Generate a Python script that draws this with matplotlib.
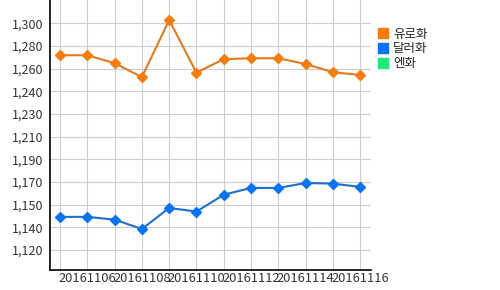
import matplotlib
matplotlib.use("Agg")
from matplotlib import pyplot as plt
from matplotlib.lines import Line2D

plt.rcParams['font.family'] = ['Noto Sans CJK KR', 'DejaVu Sans']

# data
dates = ['20161105', '20161106', '20161107', '20161108', '20161109', '20161110',
         '20161111', '20161112', '20161113', '20161114', '20161115', '20161116']
euro = [1274.6, 1274.6, 1268.3, 1257.2, 1302.6, 1260.8,
        1271.5, 1272.2, 1272.2, 1267.7, 1261.1, 1259.0]
dollar = [1146.2, 1146.2, 1144.0, 1136.6, 1153.3, 1150.4,
          1163.8, 1169.2, 1169.2, 1173.1, 1172.6, 1170.0]
ytick_vals = [1300, 1282, 1264, 1246, 1228, 1210, 1192, 1174, 1156, 1138, 1120]
ytick_labels = ['1,300', '1,280', '1,260', '1,240', '1,230', '1,210',
                '1,190', '1,170', '1,150', '1,140', '1,120']
series_names = ['유로화', '달러화', '엔화']
series_colors = ['#f57d0f', '#0a74f0', '#1ee87a']
line_colors = ['#e07a1f', '#1f6fd0']

fig = plt.figure(figsize=(5, 2.9), dpi=100)
ax = fig.add_axes([0.1, 0.069, 0.642, 0.931])

x = list(range(len(dates)))
ax.plot(x, euro, color=line_colors[0], lw=1.5, marker='D', ms=5.5,
        mfc=series_colors[0], mec=series_colors[0], zorder=3)
ax.plot(x, dollar, color=line_colors[1], lw=1.5, marker='D', ms=5.5,
        mfc=series_colors[1], mec=series_colors[1], zorder=3)

ax.set_xlim(-0.37, len(dates) - 1 + 0.4)
ax.set_ylim(1104, 1318.5)

ax.set_yticks(ytick_vals)
ax.set_yticklabels(ytick_labels)
ax.set_xticks(x, minor=True)
ax.set_xticks(x[1::2])
ax.set_xticklabels(dates[1::2])

ax.grid(True, which='both', color='#cccccc', lw=0.8)
ax.set_axisbelow(True)
ax.tick_params(axis='both', which='both', length=0, labelsize=9, colors='#333333')
ax.tick_params(axis='y', pad=5)
ax.tick_params(axis='x', labelsize=9.3, pad=1.5)

for s in ['top', 'right']:
    ax.spines[s].set_visible(False)
for s in ['left', 'bottom']:
    ax.spines[s].set_color('black')
    ax.spines[s].set_linewidth(1.2)

handles = [Line2D([], [], ls='none', marker='s', ms=7.5, mfc=c, mec=c)
           for c in series_colors]
fig.legend(handles, series_names, loc='upper left',
           bbox_to_anchor=(0.755, 0.905), frameon=False, fontsize=9,
           handlelength=0.9, handletextpad=0.35, labelspacing=0.15,
           borderpad=0, borderaxespad=0, labelcolor='#222222')

plt.savefig('out.png')
